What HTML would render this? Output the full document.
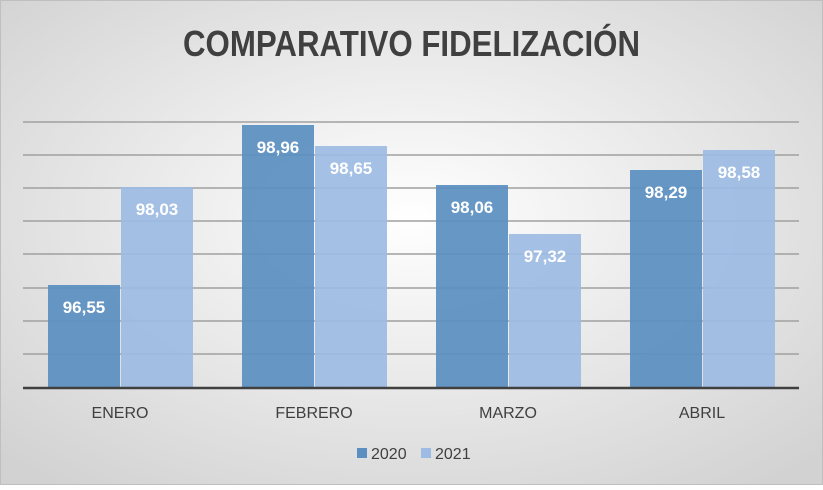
<!DOCTYPE html>
<html><head><meta charset="utf-8"><style>
html,body{margin:0;padding:0}
body{width:823px;height:485px;overflow:hidden;font-family:"Liberation Sans",sans-serif}
</style></head><body>
<svg width="823" height="485" xmlns="http://www.w3.org/2000/svg">
<defs>
<radialGradient id="bg" cx="50%" cy="45%" r="70%">
<stop offset="0" stop-color="#ffffff"/><stop offset="1" stop-color="#d2d2d2"/>
</radialGradient>
</defs>
<rect x="0.5" y="0.5" width="822" height="484" fill="url(#bg)" stroke="#bfbfbf"/>
<text x="183" y="56" textLength="457" lengthAdjust="spacingAndGlyphs" font-size="36" font-weight="bold" fill="#404040">COMPARATIVO FIDELIZACIÓN</text>
<g stroke="#a0a0a0" stroke-width="1.5">
<line x1="23" x2="799" y1="122" y2="122"/>
<line x1="23" x2="799" y1="155" y2="155"/>
<line x1="23" x2="799" y1="188" y2="188"/>
<line x1="23" x2="799" y1="221" y2="221"/>
<line x1="23" x2="799" y1="254" y2="254"/>
<line x1="23" x2="799" y1="288" y2="288"/>
<line x1="23" x2="799" y1="321" y2="321"/>
<line x1="23" x2="799" y1="354" y2="354"/>
</g>
<g fill="#5b8fc1" fill-opacity="0.93">
<rect x="48" y="285" width="72" height="102"/>
<rect x="242" y="125" width="72" height="262"/>
<rect x="436" y="185" width="72" height="202"/>
<rect x="630" y="170" width="72" height="217"/>
</g>
<g fill="#9dbbe3" fill-opacity="0.93">
<rect x="121" y="187" width="72" height="200"/>
<rect x="315" y="146" width="72" height="241"/>
<rect x="509" y="234" width="72" height="153"/>
<rect x="703" y="150" width="72" height="237"/>
</g>
<line x1="23" x2="799" y1="388" y2="388" stroke="#404040" stroke-width="2.5"/>
<g font-size="17" font-weight="bold" fill="#fff" text-anchor="middle">
<text x="84" y="313">96,55</text>
<text x="157" y="215">98,03</text>
<text x="278" y="153">98,96</text>
<text x="351" y="174">98,65</text>
<text x="472" y="213">98,06</text>
<text x="545" y="262">97,32</text>
<text x="666" y="198">98,29</text>
<text x="739" y="178">98,58</text>
</g>
<g font-size="16" fill="#404040" text-anchor="middle">
<text x="120" y="418">ENERO</text>
<text x="314" y="418">FEBRERO</text>
<text x="508" y="418">MARZO</text>
<text x="702" y="418">ABRIL</text>
</g>
<rect x="357" y="448" width="10" height="10" fill="#5b8fc1"/>
<text x="371" y="459" font-size="16" fill="#404040">2020</text>
<rect x="421" y="448" width="10" height="10" fill="#9dbbe3"/>
<text x="435" y="459" font-size="16" fill="#404040">2021</text>
</svg>
</body></html>
